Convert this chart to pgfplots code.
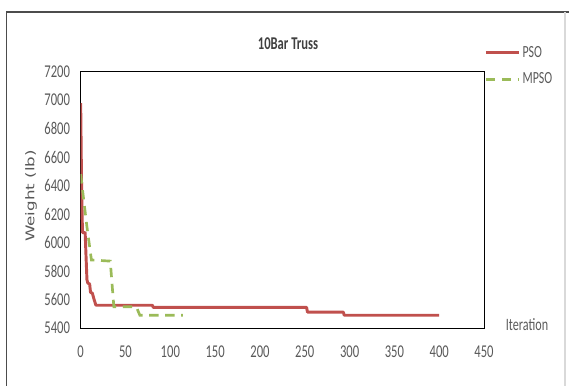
\documentclass[border=0pt]{standalone}
\usepackage{fontspec}
\setmainfont{Carlito}[FakeStretch=0.7]
\newfontfamily\labelfont{DejaVu Sans}
\usepackage{pgfplots}
\pgfplotsset{compat=1.18}
\definecolor{psored}{HTML}{C0504D}
\definecolor{mpsogreen}{HTML}{9BBB59}
\definecolor{txtgray}{HTML}{595959}
\begin{document}
\begin{tikzpicture}
\begin{axis}[
  scale only axis,
  width=302.5pt, height=192.2pt,
  xmin=0, xmax=450, ymin=5400, ymax=7200,
  xtick={0,50,...,450}, ytick={5400,5600,...,7200},
  major tick length=0pt,
  axis line style={black, line width=0.8pt},
  tick label style={font=\fontsize{13.5}{15}\selectfont, text=txtgray},
  /pgf/number format/assume math mode=true,
  /pgf/number format/set thousands separator={},
  xticklabel style={yshift=-10pt},
  yticklabel style={xshift=-4.5pt},
  title={\textbf{10Bar Truss}},
  title style={font=\fontsize{13.5}{15}\selectfont, text=black!75, at={(rel axis cs:0.514,1.08)}, anchor=center},
  xlabel={Iteration},
  xlabel style={font=\fontsize{13}{15}\selectfont, text=txtgray, at={(rel axis cs:1.1066,0.0117)}, anchor=center},
  ylabel={\scalebox{1}[0.72]{Weight (lb)}},
  ylabel style={font=\labelfont\fontsize{12.5}{14}\selectfont, text=txtgray, at={(rel axis cs:-0.123,0.515)}, anchor=center, rotate=0},
  legend style={draw=none, fill=none, at={(rel axis cs:1.0,1.105)}, anchor=north west,
    font=\fontsize{12.75}{14}\selectfont, text=txtgray, row sep=8pt, inner xsep=0pt, inner ysep=0pt,
    nodes={inner xsep=1.5pt, inner ysep=1pt}},
  legend cell align=left,
  legend image code/.code={\draw[#1] (0pt,0pt) -- (25pt,0pt);},
]
\addplot[psored, line width=2.2pt, line join=round] coordinates {
(0,6980) (1,6400) (2,6070) (5,6070) (6,5900) (7,5740) (8,5715) (10,5710) (11,5650) (13,5645) (15,5600) (17,5560) (80,5560) (81,5545) (252,5545) (253,5512) (293,5512) (294,5490) (400,5490)};
\addlegendentry{PSO}
\addplot[mpsogreen, line width=2pt, dash pattern=on 7pt off 5pt] coordinates {
(0,6480) (3,6320) (7,6110) (12,5878) (33,5870) (37,5550) (62,5550) (66,5490) (114,5490)};
\addlegendentry{MPSO}
\end{axis}
\draw[black!70, line width=0.8pt] (-55.3pt,-45pt) -- (-55.3pt,237pt) -- (366.2pt,237pt);
\draw[black!15, line width=0.8pt] (363.2pt,-45pt) -- (363.2pt,237pt);
\pgfresetboundingbox
\path[use as bounding box] (-60.5pt,-42.75pt) rectangle (366.2pt,246pt);
\end{tikzpicture}
\end{document}
